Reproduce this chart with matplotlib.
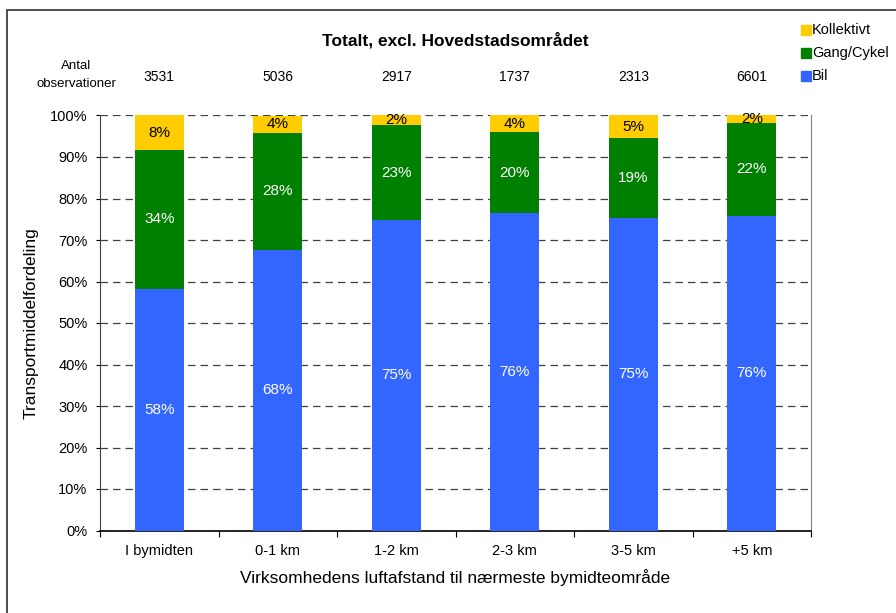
import numpy as np
import matplotlib.pyplot as plt
from matplotlib.patches import Rectangle

plt.rcParams['font.family'] = ['Liberation Sans', 'DejaVu Sans']

# data (percent)
categories = ['I bymidten', '0-1 km', '1-2 km', '2-3 km', '3-5 km', '+5 km']
observations = [3531, 5036, 2917, 1737, 2313, 6601]
bil = [58.1, 67.6, 74.9, 76.4, 75.4, 75.9]
gang_cykel = [33.7, 28.3, 22.7, 19.6, 19.2, 22.2]
kollektivt = [8.2, 4.1, 2.4, 4.0, 5.4, 1.9]

c_bil = '#3366FF'
c_gang = '#008000'
c_koll = '#FFCC00'

fig = plt.figure(figsize=(8.96, 6.13), dpi=100)
ax = fig.add_axes([100 / 896, 1 - 530.5 / 613, 711 / 896, 415 / 613])

x = np.arange(len(categories))
w = 0.41
bottom2 = np.array(bil)
bottom3 = bottom2 + np.array(gang_cykel)
ax.bar(x, bil, w, color=c_bil, zorder=3)
ax.bar(x, gang_cykel, w, bottom=bottom2, color=c_gang, zorder=3)
ax.bar(x, kollektivt, w, bottom=bottom3, color=c_koll, zorder=3)

# segment labels
for i in range(len(x)):
    ax.text(x[i], bil[i] / 2, f'{bil[i]:.0f}%', ha='center', va='center',
            color='white', fontsize=11, zorder=4)
    ax.text(x[i], bottom2[i] + gang_cykel[i] / 2, f'{gang_cykel[i]:.0f}%',
            ha='center', va='center', color='white', fontsize=11, zorder=4)
    ax.text(x[i], bottom3[i] + kollektivt[i] / 2, f'{kollektivt[i]:.0f}%',
            ha='center', va='center', color='black', fontsize=11, zorder=4)

ax.set_xlim(-0.5, len(x) - 0.5)
ax.set_ylim(0, 100)
ax.set_yticks(np.arange(0, 101, 10))
ax.set_yticklabels([f'{v}%' for v in range(0, 101, 10)], fontsize=10.5)
ax.yaxis.grid(True, linestyle=(0, (6, 4)), color='#404040', linewidth=0.9, zorder=1)

# category ticks at boundaries, labels at centers
ax.set_xticks(np.arange(-0.5, len(x), 1))
ax.set_xticklabels([])
ax.set_xticks(x, minor=True)
ax.set_xticklabels(categories, minor=True, fontsize=10.5)
ax.tick_params(axis='x', which='minor', length=0, pad=10)
ax.tick_params(axis='x', which='major', length=4, direction='out')
ax.tick_params(axis='y', length=3, direction='out', pad=6)

ax.spines['top'].set_visible(False)
ax.spines['right'].set_color('#808080')
ax.spines['left'].set_color('#404040')
ax.spines['bottom'].set_color('black')
ax.spines['bottom'].set_linewidth(1.2)

ax.set_xlabel('Virksomhedens luftafstand til nærmeste bymidteområde', fontsize=12.5, labelpad=8)
ax.set_ylabel('Transportmiddelfordeling', fontsize=12.5, labelpad=8)

# title and observation counts
fig.text(455 / 896, 1 - 40 / 613, 'Totalt, excl. Hovedstadsområdet', ha='center', va='center',
         fontsize=12.5, fontweight='bold')
fig.text(76 / 896, 1 - 75 / 613, 'Antal\nobservationer', ha='center', va='center',
         fontsize=9.5, linespacing=1.7)
for i, n in enumerate(observations):
    ax.annotate(str(n), xy=(x[i], 1), xycoords=('data', 'axes fraction'),
                xytext=(0, 28), textcoords='offset points', ha='center', va='center', fontsize=10)

# legend
leg = [('Kollektivt', c_koll, 30), ('Gang/Cykel', c_gang, 53), ('Bil', c_bil, 76)]
for name, col, ypix in leg:
    fig.patches.append(Rectangle((801 / 896, 1 - (ypix + 5) / 613), 10 / 896, 10 / 613,
                                 transform=fig.transFigure, color=col))
    fig.text(812 / 896, 1 - ypix / 613, name, ha='left', va='center', fontsize=10.5)

# outer chart frame
fig.patches.append(Rectangle((7 / 896, -0.05), 1.0, 1 - 10 / 613 + 0.05,
                             transform=fig.transFigure, fill=False, edgecolor='#303030', linewidth=1.2))

fig.savefig('out.png', dpi=100)
